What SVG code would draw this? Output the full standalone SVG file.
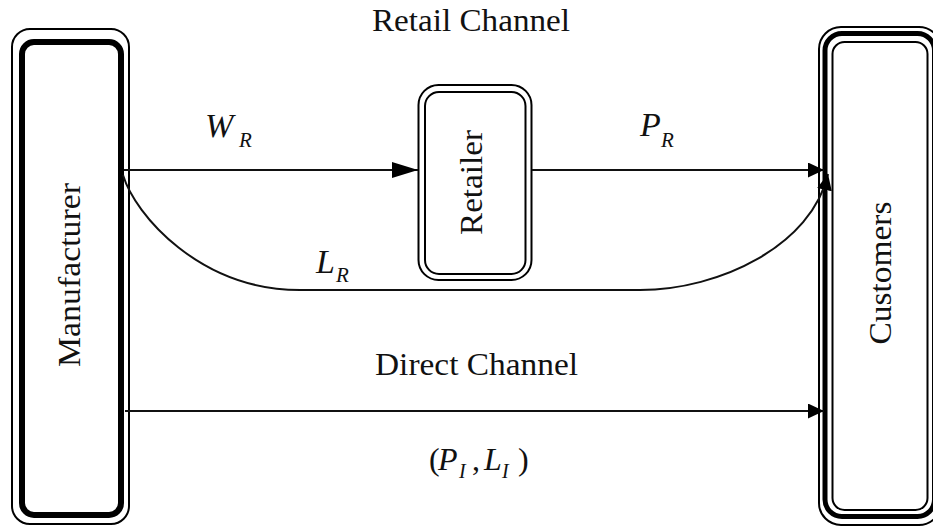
<svg xmlns="http://www.w3.org/2000/svg" width="933" height="527" viewBox="0 0 933 527">
<style>
.t{font-family:"Liberation Serif","Times New Roman",serif;font-size:32px;fill:#111}
.m{font-family:"Liberation Serif","Times New Roman",serif;font-style:italic;fill:#111}
.b{fill:none;stroke:#000}
.c{fill:none;stroke:#111;stroke-width:2}
</style>
<defs>
<marker id="ab" markerUnits="userSpaceOnUse" markerWidth="28" markerHeight="18" refX="26" refY="8" orient="auto"><path d="M0,0 L26,8 L0,16 Z" fill="#000"/></marker>
<marker id="as" markerUnits="userSpaceOnUse" markerWidth="18" markerHeight="18" refX="16" refY="7.5" orient="auto"><path d="M0,0 L16,7.5 L0,15 Z" fill="#000"/></marker>
</defs>
<rect width="933" height="527" fill="#fff"/>
<text class="t" x="372" y="31" textLength="198" lengthAdjust="spacingAndGlyphs">Retail Channel</text>
<text class="t" x="375" y="375" textLength="203" lengthAdjust="spacingAndGlyphs">Direct Channel</text>
<g id="manufacturer">
<rect class="b" x="12" y="29" width="117" height="495" rx="18" stroke-width="2"/>
<rect class="b" x="22" y="42" width="99" height="473" rx="12" stroke-width="6"/>
<text class="t" transform="translate(80,275) rotate(-90)" text-anchor="middle" textLength="184" lengthAdjust="spacingAndGlyphs">Manufacturer</text>
</g>
<g id="retailer">
<rect class="b" x="418.5" y="85" width="113" height="195" rx="20" stroke-width="2"/>
<rect class="b" x="425" y="92" width="100.5" height="182" rx="14" stroke-width="2"/>
<text class="t" transform="translate(482,182.5) rotate(-90)" text-anchor="middle" textLength="105" lengthAdjust="spacingAndGlyphs">Retailer</text>
</g>
<g id="customers">
<rect class="b" x="819" y="27" width="122" height="498" rx="22" stroke-width="2"/>
<rect class="b" x="825" y="33.5" width="109.5" height="483" rx="17" stroke-width="5"/>
<rect class="b" x="832.5" y="42" width="95" height="468" rx="12" stroke-width="2"/>
<text class="t" transform="translate(891,273) rotate(-90)" text-anchor="middle" textLength="143" lengthAdjust="spacingAndGlyphs">Customers</text>
</g>
<g id="connectors">
<path class="c" d="M124,170 L418,170" marker-end="url(#ab)"/>
<path class="c" d="M532,170 L824,170" marker-end="url(#as)"/>
<path class="c" d="M123,175 C135,215 200,290 300,290 L640,290 C720,290 812,245 828,174" marker-end="url(#as)"/>
<path class="c" d="M125,411 L824,411" marker-end="url(#as)"/>
</g>
<g id="labels">
<text class="m" x="205" y="137" font-size="34">W</text>
<text class="m" x="239" y="147" font-size="21">R</text>
<text class="m" x="640" y="136" font-size="34">P</text>
<text class="m" x="661" y="147" font-size="21">R</text>
<text class="m" x="316" y="273" font-size="34">L</text>
<text class="m" x="336" y="282" font-size="21">R</text>
<text class="t" x="429" y="470">(</text>
<text class="m" x="438" y="470" font-size="32">P</text>
<text class="m" x="459" y="478" font-size="20">I</text>
<text class="t" x="472" y="470">,</text>
<text class="m" x="484" y="470" font-size="32">L</text>
<text class="m" x="502" y="478" font-size="20">I</text>
<text class="t" x="518" y="470">)</text>
</g>
</svg>
